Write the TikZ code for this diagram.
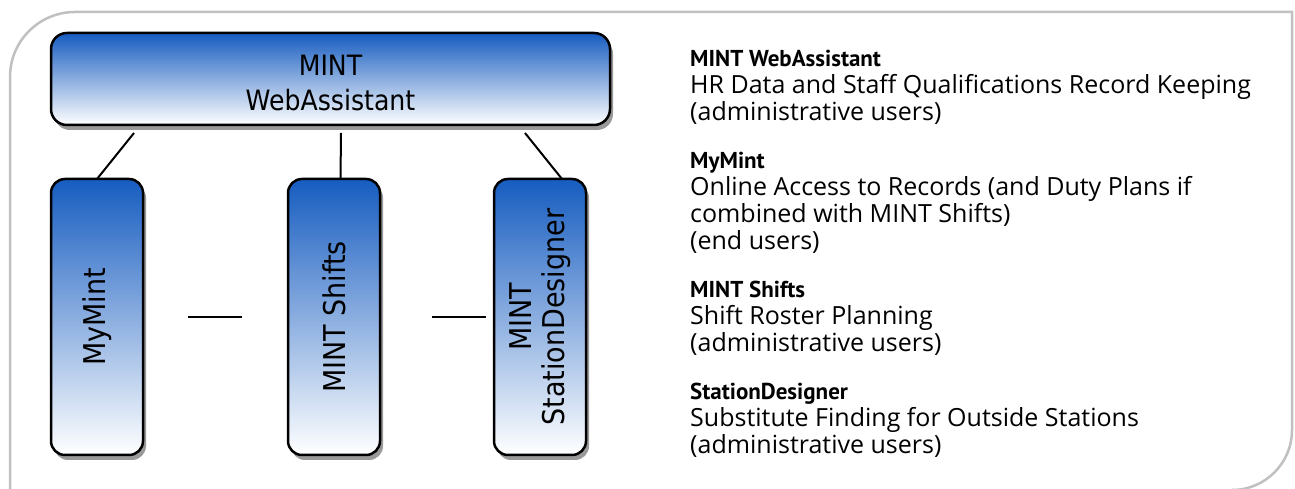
\documentclass[tikz,border=0pt]{standalone}
\usepackage{fontspec}
\setmainfont{Open Sans}
\newfontfamily\titlefont{PT Sans}
\newfontfamily\boxfont{DejaVu Sans Condensed}
\usetikzlibrary{shadows, positioning}

\definecolor{mintblue}{RGB}{22,92,192}
\definecolor{framegray}{RGB}{192,192,192}

\newcommand{\desctitle}[1]{{\titlefont\bfseries\fontsize{23}{27}\selectfont #1}}

\begin{document}
\begin{tikzpicture}[
    x=1pt, y=1pt,
    frame/.style={
        draw=framegray,
        line width=2.5pt,
    },
    module/.style={
        draw,
        line width=2.5pt,
        rounded corners=14pt,
        top color=mintblue,
        bottom color=white,
        drop shadow={shadow xshift=3pt, shadow yshift=-5pt, fill=black!40, opacity=1},
        inner sep=0pt,
        outer sep=0pt,
        minimum width=92pt,
        minimum height=276pt,
    },
    hub/.style={
        module,
        rounded corners=16pt,
        minimum width=559pt,
        minimum height=92pt,
    },
    hubtext/.style={
        font=\boxfont\fontsize{28}{35}\selectfont,
        align=center,
    },
    modtext/.style={
        font=\boxfont\fontsize{30}{33}\selectfont,
        align=center,
        rotate=90,
    },
    link/.style={
        line width=2pt,
    },
    desc/.style={
        font=\fontsize{25}{27}\selectfont,
        align=left,
        anchor=north west,
        inner sep=0pt,
    }
]
    \useasboundingbox (0,0) rectangle (1295,489);

    % Frame
    \draw[frame] (10,-5) -- (10,412) arc[start angle=180, end angle=90, radius=65]
        -- (1292,477) -- (1292,59) arc[start angle=0, end angle=-90, radius=60];

    % Modules
    \node[hub] (web) at (330.5,410) {};
    \node[module, anchor=north west] (mymint) at ([yshift=-54pt]web.south west) {};
    \node[module, right=145pt of mymint] (shifts) {};
    \node[module, right=114pt of shifts] (station) {};

    % Module names
    \node[hubtext] at ([yshift=-4pt]web.center) {MINT\\WebAssistant};
    \node[modtext] at (mymint) {MyMint};
    \node[modtext] at (shifts) {MINT Shifts};
    \node[modtext] at (station) {MINT\\StationDesigner};

    % Links
    \draw[link] ([xshift=83pt, yshift=-8pt]web.south west) -- (mymint.north);
    \draw[link] ([xshift=10.5pt, yshift=-8pt]web.south) -- ([xshift=6.5pt]shifts.north);
    \draw[link] ([xshift=-85pt, yshift=-8pt]web.south east) -- ([xshift=22pt]station.north);
    \draw[link] ([xshift=45pt]mymint.east) -- ([xshift=-46pt]shifts.west);
    \draw[link] ([xshift=52pt]shifts.east) -- ([xshift=-8pt]station.west);

    % Descriptions
    \node[desc] (legend) at (690,439) {%
        \desctitle{MINT WebAssistant}\\
        HR Data and Staff Qualifications Record Keeping\\
        (administrative users)\\[21pt]
        \desctitle{MyMint}\\
        Online Access to Records (and Duty Plans if\\
        combined with MINT Shifts)\\
        (end users)\\[21pt]
        \desctitle{MINT Shifts}\\
        Shift Roster Planning\\
        (administrative users)\\[21pt]
        \desctitle{StationDesigner}\\
        Substitute Finding for Outside Stations\\
        (administrative users)};
\end{tikzpicture}
\end{document}
